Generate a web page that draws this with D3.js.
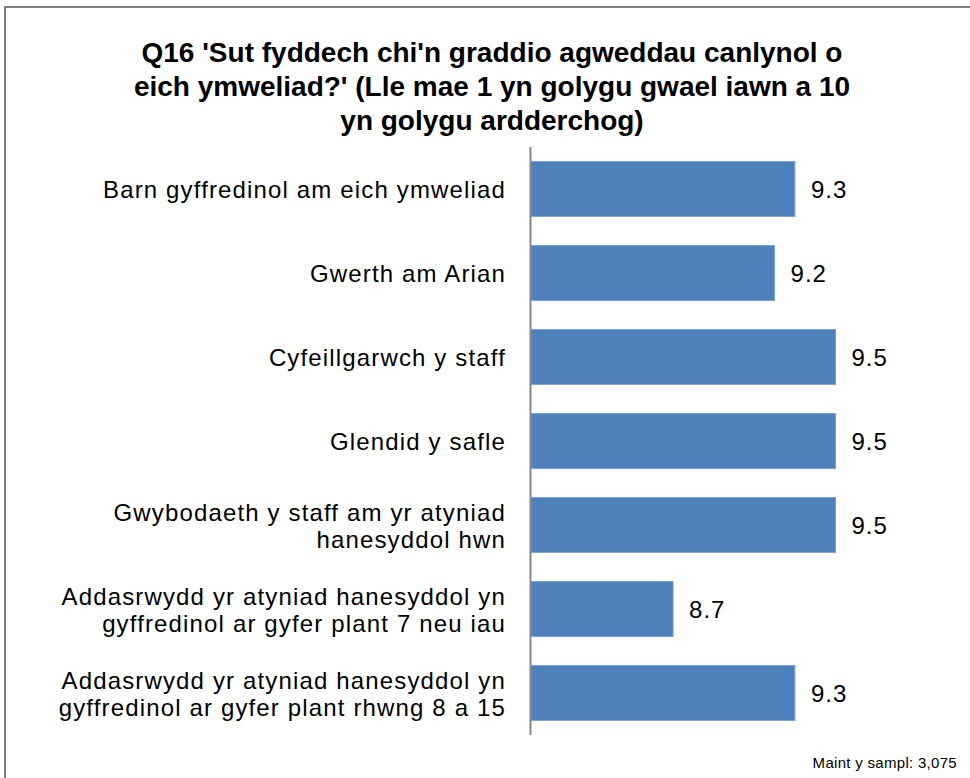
<!DOCTYPE html>
<html>
<head>
<meta charset="utf-8">
<script src="https://cdn.jsdelivr.net/npm/d3@7"></script>
<style>
  body { margin: 0; background: #fff; }
  svg { display: block; font-family: "Liberation Sans", Arial, sans-serif; }
</style>
</head>
<body>
<svg id="chart" width="970" height="778"></svg>
<script>
// chart data
const categories = [
    ["Barn gyffredinol am eich ymweliad"],
    ["Gwerth am Arian"],
    ["Cyfeillgarwch y staff"],
    ["Glendid y safle"],
    ["Gwybodaeth y staff am yr atyniad", "hanesyddol hwn"],
    ["Addasrwydd yr atyniad hanesyddol yn", "gyffredinol ar gyfer plant 7 neu iau"],
    ["Addasrwydd yr atyniad hanesyddol yn", "gyffredinol ar gyfer plant rhwng 8 a 15"]
];
const values = [9.3, 9.2, 9.5, 9.5, 9.5, 8.7, 9.3];
const titleLines = [
    "Q16 'Sut fyddech chi'n graddio agweddau canlynol o",
    "eich ymweliad?' (Lle mae 1 yn golygu gwael iawn a 10",
    "yn golygu ardderchog)"
];
const footnote = "Maint y sampl: 3,075";

const svg = d3.select("#chart");

//outer frame (runs off the right and bottom edges)
svg.append("rect")
    .attr("x", 5).attr("y", 7)
    .attr("width", 1000).attr("height", 800)
    .attr("fill", "none")
    .attr("stroke", "#808080")
    .attr("stroke-width", 2);

//title
svg.append("g").selectAll("text").data(titleLines).join("text")
    .attr("x", 492)
    .attr("y", (d, i) => 62 + i * 34)
    .attr("text-anchor", "middle")
    .attr("font-size", 28)
    .attr("font-weight", "bold")
    .attr("fill", "#000")
    .text(d => d);

//scales
const xScale = d3.scaleLinear().domain([8, 10]).range([531, 937]);
const yScale = d3.scaleBand()
    .domain(d3.range(values.length))
    .range([147, 735])
    .paddingInner(0.345)
    .paddingOuter(0.1725);

//bars
svg.append("g").selectAll("rect").data(values).join("rect")
    .attr("x", xScale(8))
    .attr("y", (d, i) => yScale(i))
    .attr("width", d => xScale(d) - xScale(8))
    .attr("height", yScale.bandwidth())
    .attr("fill", "#4f81bd")
    .attr("stroke", "#7fa2d2")
    .attr("stroke-width", 1);

//value labels
svg.append("g").selectAll("text").data(values).join("text")
    .attr("x", d => xScale(d) + 16)
    .attr("y", (d, i) => yScale(i) + yScale.bandwidth() / 2 + 9)
    .attr("font-size", 24)
    .attr("letter-spacing", 1)
    .attr("fill", "#000")
    .text(d => d.toFixed(1));

//category axis line
svg.append("line")
    .attr("x1", 530.5).attr("x2", 530.5)
    .attr("y1", 147).attr("y2", 735)
    .attr("stroke", "#868686")
    .attr("stroke-width", 2);

//category labels
const catGroup = svg.append("g").selectAll("text").data(categories).join("text")
    .attr("text-anchor", "end")
    .attr("font-size", 24)
    .attr("letter-spacing", 1.15)
    .attr("fill", "#000");
catGroup.each(function(lines, i){
    const cy = yScale(i) + yScale.bandwidth() / 2;
    const top = cy - (lines.length - 1) * 27 / 2 + 9;
    d3.select(this).selectAll("tspan").data(lines).join("tspan")
        .attr("x", 506)
        .attr("y", (d, j) => top + j * 27)
        .text(d => d);
});

//footnote
svg.append("text")
    .attr("x", 957).attr("y", 768)
    .attr("text-anchor", "end")
    .attr("font-size", 15)
    .attr("letter-spacing", 0.3)
    .attr("fill", "#000")
    .text(footnote);
</script>
</body>
</html>
